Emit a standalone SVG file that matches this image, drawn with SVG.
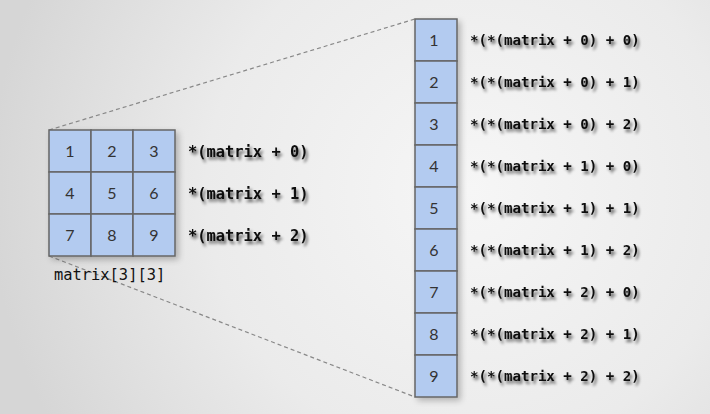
<svg xmlns="http://www.w3.org/2000/svg" width="710" height="414" viewBox="0 0 710 414">
<defs>
<radialGradient id="bg" cx="470" cy="190" r="480" gradientUnits="userSpaceOnUse">
<stop offset="0" stop-color="#f6f6f6"/>
<stop offset="0.55" stop-color="#ebebeb"/>
<stop offset="1" stop-color="#d6d6d6"/>
</radialGradient>
<filter id="ts" x="-10%" y="-40%" width="130%" height="200%">
<feGaussianBlur in="SourceAlpha" stdDeviation="1.6"/>
<feOffset dx="2" dy="2.5" result="b"/>
<feComponentTransfer><feFuncA type="linear" slope="0.6"/></feComponentTransfer>
<feMerge><feMergeNode/><feMergeNode in="SourceGraphic"/></feMerge>
</filter>
<filter id="bs" x="-20%" y="-20%" width="150%" height="150%">
<feGaussianBlur in="SourceAlpha" stdDeviation="3"/>
<feOffset dx="3" dy="3"/>
<feComponentTransfer><feFuncA type="linear" slope="0.25"/></feComponentTransfer>
<feMerge><feMergeNode/><feMergeNode in="SourceGraphic"/></feMerge>
</filter>
</defs>
<style>
.cell{fill:#b3cbf0;stroke:#666;stroke-width:1.5}
.num{font-family:"Lato","Liberation Sans",sans-serif;font-size:16px;fill:#333;text-anchor:middle}
.lbl{font-family:"DejaVu Sans Mono","Liberation Mono",monospace;font-weight:bold;fill:#111}
.l1{font-size:15.4px}
.l2{font-size:14.1px}
.dash{stroke:#888;stroke-width:1.2;stroke-dasharray:4 3;fill:none}
</style>
<rect width="710" height="414" fill="url(#bg)"/>
<g id="connectors">
<line class="dash" x1="49" y1="130" x2="415" y2="19"/>
<line class="dash" x1="49" y1="256" x2="415" y2="397"/>
</g>
<g id="matrix" filter="url(#bs)">
<rect class="cell" x="49" y="130" width="42" height="42"/>
<rect class="cell" x="91" y="130" width="42" height="42"/>
<rect class="cell" x="133" y="130" width="42" height="42"/>
<rect class="cell" x="49" y="172" width="42" height="42"/>
<rect class="cell" x="91" y="172" width="42" height="42"/>
<rect class="cell" x="133" y="172" width="42" height="42"/>
<rect class="cell" x="49" y="214" width="42" height="42"/>
<rect class="cell" x="91" y="214" width="42" height="42"/>
<rect class="cell" x="133" y="214" width="42" height="42"/>
</g>
<g id="matrix-nums">
<text class="num" x="70" y="157">1</text>
<text class="num" x="112" y="157">2</text>
<text class="num" x="154" y="157">3</text>
<text class="num" x="70" y="199">4</text>
<text class="num" x="112" y="199">5</text>
<text class="num" x="154" y="199">6</text>
<text class="num" x="70" y="241">7</text>
<text class="num" x="112" y="241">8</text>
<text class="num" x="154" y="241">9</text>
</g>
<g id="matrix-label">
<text x="54" y="280" font-family="DejaVu Sans Mono, Liberation Mono, monospace" font-size="15.4" fill="#111">matrix[3][3]</text>
</g>
<g id="row-labels" filter="url(#ts)">
<text class="lbl l1" x="188" y="157">*(matrix + 0)</text>
<text class="lbl l1" x="188" y="199">*(matrix + 1)</text>
<text class="lbl l1" x="188" y="241">*(matrix + 2)</text>
</g>
<g id="column" filter="url(#bs)">
<rect class="cell" x="415" y="19" width="42" height="42"/>
<rect class="cell" x="415" y="61" width="42" height="42"/>
<rect class="cell" x="415" y="103" width="42" height="42"/>
<rect class="cell" x="415" y="145" width="42" height="42"/>
<rect class="cell" x="415" y="187" width="42" height="42"/>
<rect class="cell" x="415" y="229" width="42" height="42"/>
<rect class="cell" x="415" y="271" width="42" height="42"/>
<rect class="cell" x="415" y="313" width="42" height="42"/>
<rect class="cell" x="415" y="355" width="42" height="42"/>
</g>
<g id="column-nums">
<text class="num" x="434" y="46">1</text>
<text class="num" x="434" y="88">2</text>
<text class="num" x="434" y="130">3</text>
<text class="num" x="434" y="172">4</text>
<text class="num" x="434" y="214">5</text>
<text class="num" x="434" y="256">6</text>
<text class="num" x="434" y="298">7</text>
<text class="num" x="434" y="340">8</text>
<text class="num" x="434" y="382">9</text>
</g>
<g id="element-labels" filter="url(#ts)">
<text class="lbl l2" x="470" y="45">*(*(matrix + 0) + 0)</text>
<text class="lbl l2" x="470" y="87">*(*(matrix + 0) + 1)</text>
<text class="lbl l2" x="470" y="129">*(*(matrix + 0) + 2)</text>
<text class="lbl l2" x="470" y="171">*(*(matrix + 1) + 0)</text>
<text class="lbl l2" x="470" y="213">*(*(matrix + 1) + 1)</text>
<text class="lbl l2" x="470" y="255">*(*(matrix + 1) + 2)</text>
<text class="lbl l2" x="470" y="297">*(*(matrix + 2) + 0)</text>
<text class="lbl l2" x="470" y="339">*(*(matrix + 2) + 1)</text>
<text class="lbl l2" x="470" y="381">*(*(matrix + 2) + 2)</text>
</g>
</svg>
